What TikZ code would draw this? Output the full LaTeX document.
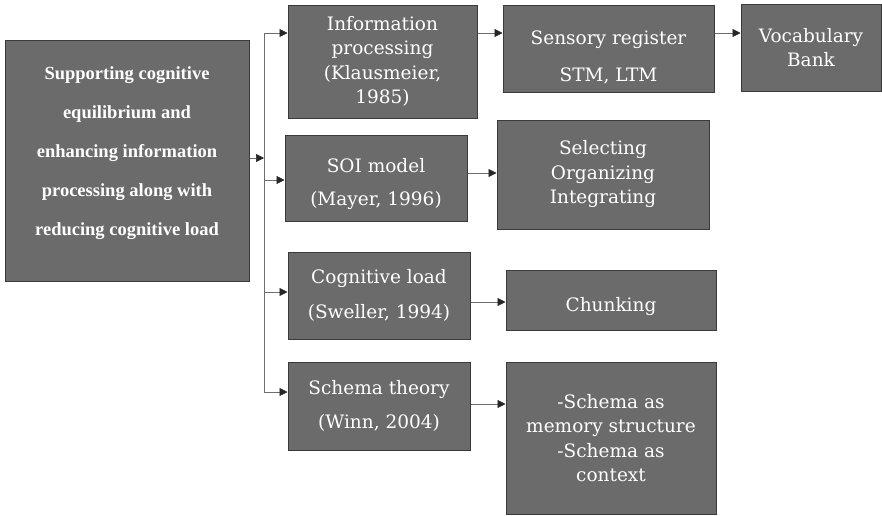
\documentclass[tikz,border=0pt]{standalone}
\usepackage{fontspec}
\setmainfont{DejaVu Serif}
\newfontfamily\headfont{Liberation Serif}
\usetikzlibrary{arrows.meta}

\definecolor{boxgray}{HTML}{6B6B6B}
\definecolor{edgegray}{HTML}{3A3A3A}
\definecolor{linegray}{HTML}{6E6E6E}

\begin{document}
\begin{tikzpicture}[x=1pt,y=-1pt,
    boxtext/.style={text=white, align=center, inner sep=0pt,
      font=\fontsize{18.5}{24.5}\selectfont},
    box/.style={boxtext, draw=edgegray, line width=1pt, fill=boxgray},
    headtext/.style={text=white, align=center,
      font=\headfont\bfseries\fontsize{18.5}{39}\selectfont},
    arr/.style={draw=linegray, line width=0.7pt,
      -{Triangle[length=8pt,width=8pt,color=black!85]}}]
  \useasboundingbox (0,0) rectangle (882,515);

  % left box
  \node[box, minimum width=244pt, minimum height=241pt] (main) at (127,160.5) {};
  \node[headtext] (maintext) at (127,153) {Supporting cognitive\\equilibrium and\\
    enhancing information\\processing along with\\reducing cognitive load};

  % theories
  \node[box, minimum width=189pt, minimum height=113pt] (info) at (382.5,61.5)
    {Information\\processing\\(Klausmeier,\\1985)};
  \node[box, minimum width=182pt, minimum height=86pt] (soi) at (376,178) {};
  \node[boxtext] (soitext) at ([yshift=-6pt]soi.center)
    {SOI model\\[9pt](Mayer, 1996)};
  \node[box, minimum width=182pt, minimum height=87pt] (cog) at (379,295.5)
    {Cognitive load\\[11pt](Sweller, 1994)};
  \node[box, minimum width=182pt, minimum height=88pt] (schema) at (379,406)
    {Schema theory\\[10pt](Winn, 2004)};

  % outcomes
  \node[box, minimum width=211pt, minimum height=87pt] (sens) at (608.5,48.5) {};
  \node[boxtext] (senstext) at ([yshift=-9pt]sens.center)
    {Sensory register\\[13pt]STM, LTM};
  \node[box, minimum width=140pt, minimum height=87pt] (vocab) at (811,47.5)
    {Vocabulary\\Bank};
  \node[box, minimum width=212pt, minimum height=109pt] (sel) at (603,174.5)
    {Selecting\\Organizing\\Integrating};
  \node[box, minimum width=210pt, minimum height=60pt] (chunk) at (611,300) {};
  \node[boxtext] (chunktext) at ([yshift=-7pt]chunk.center) {Chunking};
  \node[box, minimum width=210pt, minimum height=152pt] (ctx) at (611,438)
    {-Schema as\\memory structure\\-Schema as\\context};

  % branch line
  \coordinate (top) at (264,33);
  \coordinate (bot) at (264,392);
  \coordinate (hit) at (264,158);
  \coordinate (toSoi) at (264,180);
  \coordinate (toCog) at (264,292);
  \draw[linegray, line width=0.7pt] (top) -- (bot);

  % arrow rows on the right
  \coordinate (soiOut) at ([yshift=5pt]soi.east);
  \coordinate (cogOut) at ([yshift=-2pt]chunk.west -| cog.east);
  \coordinate (schemaOut) at ([yshift=2pt]schema.east);

  \begin{scope}[arr]
    \draw (main.east |- hit) -- (hit);
    \draw (top) -- (info.west |- top);
    \draw (toSoi) -- (soi.west |- toSoi);
    \draw (toCog) -- (cog.west |- toCog);
    \draw (bot) -- (schema.west |- bot);
    \draw (info.east |- top) -- (sens.west |- top);
    \draw (sens.east |- top) -- (vocab.west |- top);
    \draw (soiOut) -- (sel.west |- soiOut);
    \draw (cogOut) -- (chunk.west |- cogOut);
    \draw (schemaOut) -- (ctx.west |- schemaOut);
  \end{scope}
\end{tikzpicture}
\end{document}
